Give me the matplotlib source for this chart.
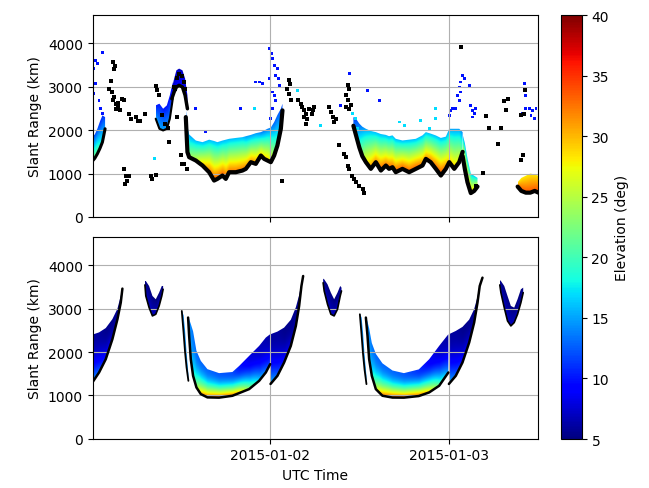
import numpy as np
import matplotlib
matplotlib.use('Agg')
import matplotlib.pyplot as plt
import matplotlib.dates as mdates
from matplotlib.path import Path
from matplotlib.patches import PathPatch
from matplotlib.colors import Normalize
from matplotlib.cm import ScalarMappable
from datetime import datetime

# ---------------- data (hours since 2015-01-01 00:00 UTC, slant range km, elevation deg) ----------------
# Bottom panel (model) passes: time, lower edge, upper edge, elevation at lower edge, elevation at upper edge
A1_h = [-0.3, 0.98, 1.88, 2.77, 3.45, 3.90, 4.12]
A1_lo = [1200, 1530, 1836, 2297, 2758, 3143, 3465]
A1_hi = [2380, 2455, 2555, 2760, 3000, 3300, 3465]
A1_elo = [16, 13, 10, 8, 7, 6, 6]
A1_ehi = [6, 6, 5.5, 5.5, 5.5, 5.5, 5.5]

A2_h = [24.05, 24.98, 25.88, 26.78, 27.46, 27.9, 28.21, 28.44]
A2_lo = [1264, 1452, 1760, 2143, 2604, 3065, 3526, 3756]
A2_hi = [2412, 2473, 2565, 2746, 3035, 3316, 3580, 3756]
A2_elo = [16, 13, 10, 8, 7, 6, 6, 5.5]
A2_ehi = [6, 6, 5.5, 5.5, 5.5, 5.5, 5.5, 5.5]

A3_h = [48.05, 48.98, 49.88, 50.78, 51.45, 51.9, 52.2, 52.57]
A3_lo = [1264, 1452, 1760, 2220, 2681, 3142, 3526, 3718]
A3_hi = [2412, 2488, 2581, 2749, 2990, 3276, 3580, 3718]
A3_elo = [16, 13, 10, 8, 7, 6, 6, 5.5]
A3_ehi = [6, 6, 5.5, 5.5, 5.5, 5.5, 5.5, 5.5]

V1_h = [7.15, 7.27, 7.71, 8.16, 8.61, 9.06, 9.42, 9.6]
V1_lo = [3550, 3296, 3027, 2835, 2873, 3065, 3296, 3450]
V1_hi = [3641, 3641, 3526, 3296, 3219, 3373, 3526, 3526]
V2_h = [31.13, 31.27, 31.72, 32.17, 32.61, 33.06, 33.43, 33.6]
V2_lo = [3600, 3411, 3103, 2873, 2835, 2988, 3295, 3411]
V2_hi = [3695, 3680, 3564, 3372, 3219, 3372, 3526, 3488]
V3_h = [54.9, 55.05, 55.5, 55.94, 56.39, 56.84, 57.29, 57.74, 58.05]
V3_lo = [3550, 3372, 3026, 2719, 2604, 2681, 2873, 3142, 3372]
V3_hi = [3664, 3641, 3526, 3295, 3065, 3026, 3219, 3449, 3488]

U1a_h = [12.11, 12.35, 12.55, 12.75, 13.0]
U1a_lo = [2949, 2450, 2000, 1650, 1336]
U1a_hi = [2960, 2850, 2500, 2000, 1500]
U2a_h = [36.07, 36.3, 36.5, 36.7, 36.96]
U2a_lo = [2873, 2400, 1950, 1600, 1260]
U2a_hi = [2890, 2800, 2450, 1950, 1450]

U1b_h = [12.96, 13.1, 13.32, 13.63, 14.08, 14.67, 15.56, 17.13, 18.92, 19.83, 21.17, 22.52, 23.42, 24.0]
U1b_lo = [2797, 2373, 1836, 1452, 1184, 1030, 954, 948, 991, 1053, 1145, 1336, 1530, 1721]
U1b_hi = [2820, 2760, 2650, 2480, 2030, 1797, 1606, 1514, 1540, 1680, 1912, 2143, 2336, 2412]
U1b_elo = [15, 15, 16, 18, 24, 31, 34, 35, 34, 31, 24, 17, 14, 12]
U1b_ehi = [14, 14, 14, 13.5, 13, 13, 13, 12.5, 12, 10, 8, 7, 6.5, 6]

U2b_h = [36.88, 37.1, 37.32, 37.68, 38.22, 39.11, 40.46, 42.0, 44.0, 45.4, 46.74, 47.98]
U2b_lo = [2797, 2374, 1836, 1452, 1145, 992, 950, 948, 985, 1069, 1222, 1529]
U2b_hi = [2820, 2700, 2550, 2210, 1960, 1740, 1575, 1514, 1600, 1835, 2143, 2412]
U2b_elo = [15, 15, 16, 18, 26, 33, 35, 35, 34, 30, 22, 15]
U2b_ehi = [14, 14, 14, 13.5, 13, 13, 13, 12.5, 11, 9, 7, 6]

# Top panel (measured) dense bands
T1_h = [-0.2, 0.4, 0.75, 1.1, 1.43, 1.79]
T1_lo = [1230, 1350, 1454, 1580, 1723, 2031]
T1_hi = [1800, 1900, 2031, 2200, 2338, 2300]
T1_elo = [24, 23, 22, 20, 18, 16]
T1_ehi = [12, 12, 12, 11, 11, 11]

T2_h = [8.6, 9.1, 9.6, 10.1, 10.5, 10.9]
T2_lo = [2262, 2031, 1992, 2031, 2262, 2723]
T2_hi = [2570, 2608, 2492, 2570, 2800, 3108]
T2_elo = [15, 15, 15, 15, 14, 12]
T2_ehi = [10, 10, 10, 10, 10, 9]

T3_h = [10.77, 11.08, 11.39, 11.75, 12.2, 12.56, 12.87]
T3_lo = [2723, 2877, 2992, 3031, 2992, 2800, 2492]
T3_hi = [2954, 3185, 3377, 3416, 3377, 3185, 2800]
T3_elo = [9, 9, 9, 9, 9, 9, 9]
T3_ehi = [7, 7, 7, 7, 7, 7, 7]

T4_h = [12.65, 12.87, 13.1, 14.0, 14.9, 15.79, 16.46, 16.9, 17.58, 18.03, 18.48, 19.38,
        20.27, 20.73, 21.4, 22.07, 22.75, 23.19, 23.64, 24.09, 24.54, 24.98, 25.44, 25.66]
T4_lo = [2300, 1492, 1377, 1300, 1185, 1031, 839, 877, 954, 877, 1031, 1031,
         1069, 1108, 1262, 1223, 1415, 1338, 1300, 1262, 1415, 1646, 2031, 2454]
T4_hi = [2500, 2100, 1900, 1760, 1723, 1780, 1750, 1723, 1760, 1780, 1800, 1820,
         1838, 1860, 1890, 1930, 1954, 1990, 2031, 2060, 2185, 2350, 2492, 2608]
T4_elo = [15, 20, 24, 26, 30, 33, 34, 34, 34, 34, 33, 33, 33, 33, 32, 32, 30, 30, 30, 28, 24, 20, 16, 14]
T4_ehi = [13, 14, 15, 16, 16, 16, 16, 16, 16, 16, 16, 16, 16, 15, 15, 15, 14, 14, 14, 14, 13, 13, 12, 12]

T5_h = [35.2, 35.6, 36.0, 36.4, 36.88, 37.55, 38.22, 38.9, 39.57, 40.0, 40.46, 40.9, 41.8,
        42.7, 43.6, 44.5, 44.95, 45.6, 46.3, 46.97, 47.64, 48.1, 48.77, 49.44, 49.9]
T5_lo = [2100, 1850, 1600, 1400, 1262, 1108, 1262, 1069, 1185, 1108, 1146, 1031, 1108,
         1031, 1108, 1185, 1338, 1262, 1108, 954, 1108, 1262, 1108, 1262, 1500]
T5_hi = [2300, 2250, 2150, 2080, 2031, 1980, 1954, 1910, 1890, 1860, 1880, 1800, 1762,
         1780, 1800, 1880, 1954, 1920, 1877, 1820, 1850, 2031, 2031, 2031, 1954]
T5_elo = [14, 16, 20, 24, 28, 32, 32, 34, 33, 34, 33, 34, 34, 34, 34, 33, 32, 33, 34, 35, 33, 30, 30, 28, 22]
T5_ehi = [11, 12, 13, 14, 15, 16, 16, 16, 16, 16, 16, 16, 16, 16, 16, 16, 16, 16, 16, 16, 16, 15, 15, 15, 14]

T6_h = [49.9, 50.2, 50.55, 51.0, 51.45, 51.9]
T6_lo = [1400, 1100, 800, 550, 600, 700]
T6_hi = [1900, 1700, 1350, 1000, 950, 900]
T6_elo = [30, 30, 30, 30, 30, 30]
T6_ehi = [14, 14, 15, 16, 16, 16]

T7_h = [57.3, 57.8, 58.4, 59.0, 59.6, 60.1]
T7_lo = [700, 600, 560, 560, 600, 560]
T7_hi = [800, 900, 950, 1000, 980, 950]
T7_elo = [34, 34, 34, 34, 34, 34]
T7_ehi = [28, 28, 28, 28, 28, 28]

# Top panel sparse points
black_h = [2.87, 3.14, 3.00, 2.55, 2.33, 2.78, 3.00, 2.87, 3.32, 3.58, 3.76, 4.12, 4.35, 3.50, 3.23,
           5.02, 5.25, 5.92, 6.28, 6.46, 7.13, 4.35, 4.57, 4.80, 4.48, 5.02, 7.94, 8.16, 8.61,
           8.61, 8.83, 9.06, 10.40, 11.53, 11.98, 12.20, 12.42, 12.87, 9.5, 9.9, 10.2,
           11.0, 11.4, 11.75, 12.1, 12.4, 11.2, 12.6,
           26.47, 26.65, 26.33, 26.56, 26.78, 27.81, 28.13, 28.35, 28.58, 28.80, 29.02, 28.58,
           29.25, 29.70, 29.92, 29.61, 28.80, 31.94, 32.17, 32.39, 32.84, 32.61, 33.29, 33.96,
           34.18, 34.41, 34.63, 35.08, 35.31, 35.53, 35.98, 36.43, 36.65, 25.66, 34.41, 34.63,
           34.27, 34.54, 34.86, 34.63, 34.18,
           49.66, 53.03, 53.48, 55.05, 54.60, 57.96, 57.74, 55.94, 55.50, 55.72, 58.32, 58.19,
           57.74, 52.58, 51.68]
black_km = [3570, 3477, 3416, 3124, 2954, 2877, 2762, 2685, 2608, 2531, 2454, 2723, 2685, 2631, 2493,
            2377, 2246, 2300, 2200, 2200, 2377, 1108, 954, 839, 762, 954, 954, 877, 969,
            3016, 2916, 2800, 1723, 2300, 1431, 1223, 1223, 1108, 2350, 2150, 2050,
            3000, 3200, 3300, 3250, 3100, 2950, 2950,
            3147, 3070, 2954, 2839, 2685, 2685, 2608, 2531, 2454, 2377, 2262, 2300,
            2493, 2454, 2531, 2377, 2146, 2531, 2416, 2300, 2262, 2185, 1646, 1454,
            1377, 1185, 1108, 954, 877, 800, 723, 646, 554, 839, 3031, 2954,
            2800, 2685, 2570, 2477, 2531,
            3916, 2323, 2046, 2046, 1685, 1416, 1323, 2708, 2662, 2454, 2916, 2377,
            2339, 1016, 723]

color_h = [0.53, 0.76, 0.31, 1.43, 0.17, 0.53, 0.31, 0.02, 1.21, 1.43, 0.98, 13.99, 20.05, 15.34,
           23.95, 24.22, 24.31, 24.54, 24.76, 24.99, 25.12, 25.21, 24.31, 24.54, 24.76, 24.31, 24.09,
           23.87, 22.07, 22.52, 22.97, 34.63, 37.10, 38.67, 33.51,
           49.89, 49.66, 49.44, 49.66, 49.21, 49.44, 48.99, 48.32, 48.09, 48.54, 50.11, 50.78, 51.01,
           51.23, 51.46, 51.23, 51.68, 58.19, 58.41, 58.86, 59.31, 59.09, 59.53, 59.76, 58.41, 57.96,
           30.82, 27.68, 21.85, 35.08, 35.53, 35.75, 44.28, 46.30, 46.30, 45.40, 42.04, 41.36,
           8.48, 8.61, 4.35]
color_km = [3608, 3531, 3416, 3785, 3070, 3070, 2839, 2839, 2493, 2377, 2685, 2493, 2493, 1954,
            3877, 3762, 3647, 3493, 3262, 3416, 3185, 3031, 2877, 2800, 2685, 2493, 2262,
            3185, 3108, 3108, 3070, 3300, 2916, 2685, 2570,
            3262, 3108, 2992, 2877, 2800, 2685, 2493, 2454, 2339, 2493, 3185, 3031, 2570,
            2454, 2377, 2300, 2493, 3070, 2800, 2493, 2454, 2339, 2262, 2493, 2493, 2377,
            2108, 2916, 2493, 2377, 2262, 2031, 2223, 2493, 2262, 2031, 2108, 2185,
            1339, 969, 1108]
color_elev = [10] * 61 + [17] * 15

# ---------------- drawing ----------------
BASE = mdates.date2num(datetime(2015, 1, 1))


def hx(h):
    return BASE + np.asarray(h, float) / 24.0


cmap = plt.get_cmap('jet')
norm = Normalize(vmin=5, vmax=40)


def draw_band(ax, h, lo, hi, elo, ehi, p=2.0, edge_lw=1.8):
    h = np.asarray(h, float)
    lo = np.asarray(lo, float)
    hi = np.asarray(hi, float)
    elo = np.broadcast_to(np.asarray(elo, float), h.shape)
    ehi = np.broadcast_to(np.asarray(ehi, float), h.shape)
    tg = np.linspace(h.min(), h.max(), 400)
    rg = np.linspace(lo.min(), hi.max(), 400)
    L = np.interp(tg, h, lo)
    H = np.interp(tg, h, hi)
    EL = np.interp(tg, h, elo)
    EH = np.interp(tg, h, ehi)
    R = rg[:, None]
    frac = np.clip((R - L[None, :]) / np.maximum(H - L, 1.0)[None, :], 0, 1)
    elev = EH[None, :] + (EL - EH)[None, :] * (1 - frac) ** p
    im = ax.imshow(elev, origin='lower', extent=[hx(h.min()), hx(h.max()), rg[0], rg[-1]],
                   cmap=cmap, norm=norm, aspect='auto', interpolation='bilinear', zorder=1)
    verts = np.concatenate([np.column_stack([hx(h), lo]),
                            np.column_stack([hx(h[::-1]), hi[::-1]])])
    verts = np.vstack([verts, verts[:1]])
    patch = PathPatch(Path(verts, closed=True), transform=ax.transData,
                      facecolor='none', edgecolor='none')
    ax.add_patch(patch)
    im.set_clip_path(patch)
    if edge_lw:
        ax.plot(hx(h), lo, color='k', lw=edge_lw, zorder=2, solid_capstyle='round')


fig = plt.figure(figsize=(6.49, 4.89), dpi=100)
ax1 = fig.add_axes([0.1428, 0.5542, 0.6857, 0.4131])
ax2 = fig.add_axes([0.1428, 0.1008, 0.6857, 0.4119], sharex=ax1)
cax = fig.add_axes([0.8640, 0.1002, 0.0324, 0.8670])

# bottom panel
for (h, lo, hi, elo, ehi) in [(A1_h, A1_lo, A1_hi, A1_elo, A1_ehi),
                              (A2_h, A2_lo, A2_hi, A2_elo, A2_ehi),
                              (A3_h, A3_lo, A3_hi, A3_elo, A3_ehi),
                              (U1b_h, U1b_lo, U1b_hi, U1b_elo, U1b_ehi),
                              (U2b_h, U2b_lo, U2b_hi, U2b_elo, U2b_ehi)]:
    draw_band(ax2, h, lo, hi, elo, ehi, p=2.0, edge_lw=1.8)
for (h, lo, hi) in [(V1_h, V1_lo, V1_hi), (V2_h, V2_lo, V2_hi), (V3_h, V3_lo, V3_hi)]:
    draw_band(ax2, h, lo, hi, 7, 5, p=1.0, edge_lw=1.2)
for (h, lo, hi) in [(U1a_h, U1a_lo, U1a_hi), (U2a_h, U2a_lo, U2a_hi)]:
    draw_band(ax2, h, lo, hi, 15, 14, p=1.0, edge_lw=1.3)

# top panel
for (h, lo, hi, elo, ehi, lw) in [(T1_h, T1_lo, T1_hi, T1_elo, T1_ehi, 2.2),
                                  (T2_h, T2_lo, T2_hi, T2_elo, T2_ehi, 1.5),
                                  (T3_h, T3_lo, T3_hi, T3_elo, T3_ehi, 2.5),
                                  (T4_h, T4_lo, T4_hi, T4_elo, T4_ehi, 3.0),
                                  (T5_h, T5_lo, T5_hi, T5_elo, T5_ehi, 3.0),
                                  (T6_h, T6_lo, T6_hi, T6_elo, T6_ehi, 3.0),
                                  (T7_h, T7_lo, T7_hi, T7_elo, T7_ehi, 3.0)]:
    draw_band(ax1, h, lo, hi, elo, ehi, p=1.0, edge_lw=lw)
ax1.scatter(hx(color_h), color_km, c=color_elev, cmap=cmap, norm=norm, s=4, marker='s',
            linewidths=0, zorder=1)
ax1.scatter(hx(black_h), black_km, c='k', s=7, marker='s', linewidths=0, zorder=2)

for ax in (ax1, ax2):
    ax.set_ylim(0, 4650)
    ax.set_yticks([0, 1000, 2000, 3000, 4000])
    ax.set_ylabel('Slant Range (km)', fontsize=10)
    ax.grid(True, color='#b0b0b0', lw=0.8)
    ax.tick_params(labelsize=10)
ax2.set_xlim(BASE + 0.005, BASE + 2.5)
ax2.xaxis.set_major_locator(mdates.DayLocator())
ax2.xaxis.set_major_formatter(mdates.DateFormatter('%Y-%m-%d'))
ax2.set_xlabel('UTC Time', fontsize=10)
plt.setp(ax1.get_xticklabels(), visible=False)

cb = fig.colorbar(ScalarMappable(norm=norm, cmap=cmap), cax=cax)
cb.set_ticks([5, 10, 15, 20, 25, 30, 35, 40])
cb.ax.tick_params(labelsize=10)
cb.set_label('Elevation (deg)', fontsize=10)

fig.savefig('out.png', dpi=100)
